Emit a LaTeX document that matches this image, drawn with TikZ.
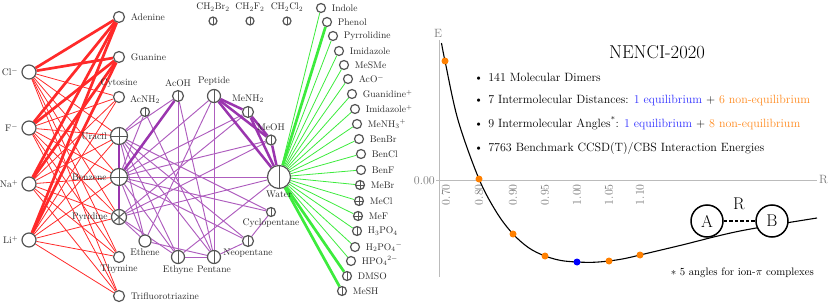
\documentclass[tikz,border=0pt]{standalone}
\usetikzlibrary{backgrounds}
\definecolor{molgray}{HTML}{555555}
\definecolor{txtgray}{HTML}{2A2A2A}
\definecolor{axgray}{HTML}{BBBBBB}
\definecolor{axtxt}{HTML}{7A7A7A}
\definecolor{ionred}{HTML}{FF2A2A}
\definecolor{mpurple}{HTML}{9A35AE}
\definecolor{lgreen}{HTML}{3DEB3D}
\definecolor{dorange}{HTML}{FF8000}
\definecolor{torange}{HTML}{FF8A1F}
\definecolor{dblue}{HTML}{0000FF}
\definecolor{tblue}{HTML}{3030FF}
\begin{document}
\begin{tikzpicture}[x=1pt,y=-1pt,
  mol/.style={circle, draw=molgray, line width=1.2pt, fill=white, inner sep=0pt, minimum size={2*#1*1pt}},
  vl/.style={path picture={\draw[molgray,line width=1pt] (path picture bounding box.north) -- (path picture bounding box.south);}},
  pl/.style={path picture={\draw[molgray,line width=1pt] (path picture bounding box.north) -- (path picture bounding box.south) (path picture bounding box.west) -- (path picture bounding box.east);}},
  st/.style={path picture={\draw[molgray,line width=1pt] (path picture bounding box.north) -- (path picture bounding box.south)
     ([shift={(40:12pt)}]path picture bounding box.center) -- ([shift={(220:12pt)}]path picture bounding box.center)
     ([shift={(140:12pt)}]path picture bounding box.center) -- ([shift={(320:12pt)}]path picture bounding box.center);}},
  lbl/.style={font=\fontsize{9.6}{11}\selectfont, text=txtgray, inner sep=1.5pt},
  lr/.style={label={[lbl,label distance=4pt]right:{#1}}},
  ll/.style={label={[lbl,label distance=1.5pt]left:{#1}}},
  la/.style={label={[lbl,label distance=1.5pt]above:{#1}}},
  lat/.style={label={[lbl,label distance=3.5pt]above:{#1}}},
  lb/.style={label={[lbl,label distance=0pt]below:{#1}}},
  rthin/.style={ionred, line width=0.8pt},
  rthick/.style={ionred, line width=2.7pt},
  pthin/.style={mpurple!80, line width=0.95pt},
  pthick/.style={mpurple, line width=2.5pt},
  gthin/.style={lgreen, line width=0.8pt},
  gthick/.style={lgreen, line width=2.7pt},
  axis/.style={axgray, line width=0.7pt},
  axl/.style={text=axtxt, font=\fontsize{12}{14}\selectfont, inner sep=1pt},
  odot/.style={circle, fill=dorange, inner sep=0pt, minimum size=7pt},
  bdot/.style={circle, fill=dblue, inner sep=0pt, minimum size=7pt},
  abc/.style={circle, draw=black, line width=1.5pt, fill=white, minimum size=32pt, inner sep=0pt, font=\fontsize{17}{20}\selectfont},
  bul/.style={anchor=base west, inner sep=0pt, font=\fontsize{12}{14}\selectfont}
]
\useasboundingbox (0,0) rectangle (830,305);

% ions
\node[mol=7, ll={Cl\textsuperscript{$-$}}] (cl) at (29,72) {};
\node[mol=7, ll={F\textsuperscript{$-$}}] (f) at (29,128) {};
\node[mol=7, ll={Na\textsuperscript{+}}] (na) at (29,184) {};
\node[mol=7, ll={Li\textsuperscript{+}}] (li) at (29,240) {};

% column of bases / aromatics
\node[mol=5.5, lr={Adenine}] (ade) at (119,17) {};
\node[mol=5.5, lr={Guanine}] (gua) at (119,57) {};
\node[mol=5.5, la={Cytosine}] (cyto) at (119,97) {};
\node[mol=8.5, pl, ll={Uracil}] (ura) at (119,136) {};
\node[mol=8.5, pl, ll={Benzene}] (benz) at (119,177) {};
\node[mol=7.5, st, ll={Pyridine}] (pyr) at (119,217) {};
\node[mol=5.5, lb={Thymine}] (thy) at (119,257) {};
\node[mol=5.5, lr={Trifluorotriazine}] (tft) at (119,296) {};

% neutral molecules
\node[mol=4.5, vl, la={AcNH\textsubscript{2}}] (acnh2) at (145,112) {};
\node[mol=5.5, vl, la={AcOH}] (acoh) at (178,96) {};
\node[mol=6.5, vl, la={Peptide}] (pep) at (214,96) {};
\node[mol=5.5, vl, la={MeNH\textsubscript{2}}] (menh2) at (248,112) {};
\node[mol=5, vl, la={MeOH}] (meoh) at (271,140) {};
\node[mol=11.5, vl, lb={Water}] (wat) at (279,177) {};
\node[mol=4.5, vl, lb={Cyclopentane}] (cyc) at (271,212) {};
\node[mol=5.5, vl, lb={Neopentane}] (neo) at (248,241) {};
\node[mol=6.5, vl, lb={Pentane}] (pent) at (214,257) {};
\node[mol=6.5, vl, lb={Ethyne}] (ethy) at (178,257) {};
\node[mol=6, lb={Ethene}] (ethe) at (145,241) {};

\node[mol=4, vl, lat={CH\textsubscript{2}Br\textsubscript{2}}] (chbr) at (213,21) {};
\node[mol=4, vl, lat={CH\textsubscript{2}F\textsubscript{2}}] (chf) at (250,21) {};
\node[mol=4, vl, lat={CH\textsubscript{2}Cl\textsubscript{2}}] (chcl) at (287,21) {};

% right column
\node[mol=4.5, lr={Indole}] (indole) at (321,8) {};
\node[mol=4.5, lr={Phenol}] (phenol) at (327,22) {};
\node[mol=4.5, lr={Pyrrolidine}] (pyrr) at (333,36) {};
\node[mol=4.5, lr={Imidazole}] (imid) at (339,51) {};
\node[mol=4.5, lr={MeSMe}] (mesme) at (344,65) {};
\node[mol=4.5, lr={AcO\textsuperscript{$-$}}] (aco) at (348,79) {};
\node[mol=4.5, lr={Guanidine\textsuperscript{+}}] (guan) at (352,94) {};
\node[mol=4.5, lr={Imidazole\textsuperscript{+}}] (imidp) at (355,109) {};
\node[mol=4.5, lr={MeNH\textsubscript{3}\textsuperscript{+}}] (menh3) at (357,124) {};
\node[mol=4.5, lr={BenBr}] (benbr) at (359,139) {};
\node[mol=4.5, lr={BenCl}] (bencl) at (361,154) {};
\node[mol=4.5, lr={BenF}] (benf) at (361,170) {};
\node[mol=4.5, pl, lr={MeBr}] (mebr) at (360,185) {};
\node[mol=4.5, pl, lr={MeCl}] (mecl) at (359,201) {};
\node[mol=4.5, pl, lr={MeF}] (mef) at (358,216) {};
\node[mol=4.5, vl, lr={H\textsubscript{3}PO\textsubscript{4}}] (hhhpo) at (357,231) {};
\node[mol=4.5, lr={H\textsubscript{2}PO\textsubscript{4}\textsuperscript{$-$}}] (hhpo) at (355,247) {};
\node[mol=4.5, lr={HPO\textsubscript{4}\textsuperscript{2$-$}}] (hpo) at (351,261) {};
\node[mol=4.5, vl, lr={DMSO}] (dmso) at (347,276) {};
\node[mol=4.5, vl, lr={MeSH}] (mesh) at (342,291) {};

\begin{scope}[on background layer]
  % red ion edges
  \foreach \i in {cl,f,na,li}{
    \foreach \j in {cyto,ura,benz,pyr,thy,tft} \draw[rthin] (\i) -- (\j);
  }
  \foreach \i in {cl,f,na,li}{
    \foreach \j in {ade,gua} \draw[rthick] (\i) -- (\j);
  }
  % purple edges
  \foreach \a/\b in {wat/pyr,meoh/pyr,acoh/ura,acnh2/ura,benz/ethe,ura/ethe,ura/ethy,pyr/ethe,
     neo/pent,cyc/neo,benz/cyc,benz/neo,ura/pent,ura/cyc,ura/neo,ethe/pent,ethy/pent,pep/pent,
     benz/ethy,benz/acnh2,benz/wat,benz/meoh,benz/menh2,benz/pep,ethy/wat,ethy/acoh,pent/acoh,
     pent/acnh2,pep/ethe,pyr/ethy,menh2/pyr}
    \draw[pthin] (\a) -- (\b);
  \foreach \a/\b in {wat/meoh,wat/menh2,wat/pep,meoh/menh2,meoh/pep,menh2/pep,benz/pyr,benz/acoh,ura/benz}
    \draw[pthick] (\a) -- (\b);
  % green edges
  \foreach \j in {indole,pyrr,imid,mesme,aco,guan,imidp,menh3,benbr,bencl,benf,mebr,mecl,mef,hhhpo,hhpo,hpo}
    \draw[gthin] (wat) -- (\j);
  \foreach \j in {phenol,dmso,mesh}
    \draw[gthick] (wat) -- (\j);
\end{scope}

% ---------- right panel ----------
\draw[axis] (439,40) -- (439,277);
\draw[axis] (436,180) -- (817,180);
\node[axl] (elab) at (438,33) {E};
\node[axl, anchor=west] (rax) at (818,180) {R};
\node[axl, anchor=east] (zero) at (436,181) {0.00};
\foreach \x/\t/\n in {446/0.70/t70,479/0.80/t80,513/0.90/t90,545/0.95/t95,577/1.00/t100,609/1.05/t105,640/1.10/t110}
  \node[axl, rotate=90, anchor=east] (\n) at (\x,183) {\t};

\draw[black, line width=1.1pt] plot[smooth, tension=0.55] coordinates {
  (441.5,43) (445,61) (458,120) (479,179) (497,213) (513,234) (529,248) (545,256)
  (561,260.5) (577,262) (593,262.3) (609,261) (625,258.5) (640,255) (680,245.5) (740,231) (817,218)};

\node[odot] (p70) at (445,61) {};
\node[odot] (p80) at (479,179) {};
\node[odot] (p90) at (513,234) {};
\node[odot] (p95) at (545,256) {};
\node[bdot] (p100) at (577,262) {};
\node[odot] (p105) at (609,261) {};
\node[odot] (p110) at (640,255) {};

\node[abc] (na2) at (707,221) {A};
\node[abc] (nb2) at (772,221) {B};
\draw[line width=2.2pt, dash pattern=on 3.5pt off 2pt] (na2) -- (nb2);
\node[font=\fontsize{17}{20}\selectfont, inner sep=0pt] (rlab) at (739,204) {R};

\node[font=\fontsize{18.6}{22}\selectfont, anchor=base, inner sep=0pt] (title) at (657,58.4) {NENCI-2020};
\node[bul] (b1) at (474,81.3) {\textbullet\hspace{5pt}141 Molecular Dimers};
\node[bul] (b2) at (474,103.3) {\textbullet\hspace{5pt}7 Intermolecular Distances: \textcolor{tblue}{1 equilibrium} + \textcolor{torange}{6 non-equilibrium}};
\node[bul] (b3) at (474,127) {\textbullet\hspace{5pt}9 Intermolecular Angles\textsuperscript{*}: \textcolor{tblue}{1 equilibrium} + \textcolor{torange}{8 non-equilibrium}};
\node[bul] (b4) at (474,151) {\textbullet\hspace{5pt}7763 Benchmark CCSD(T)/CBS Interaction Energies};
\node[anchor=base east, inner sep=0pt, font=\fontsize{10.8}{13}\selectfont] (fn) at (814,275.5) {$\ast$ 5 angles for ion-$\pi$ complexes};
\end{tikzpicture}
\end{document}
